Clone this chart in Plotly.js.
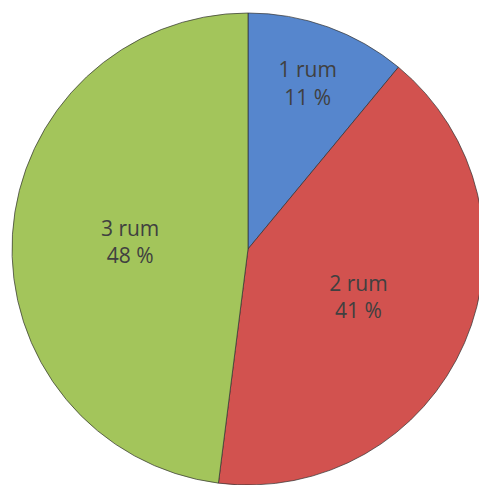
<!DOCTYPE html>
<html>
<head>
<meta charset="utf-8">
<script src="https://cdn.plot.ly/plotly-3.0.1.min.js"></script>
<style>
html,body{margin:0;padding:0;overflow:hidden;background:#fff;width:479px;height:485px;}
#chart{width:500px;height:500px;}
</style>
</head>
<body>
<div id="chart"></div>
<script>
const categories = ["1 rum", "2 rum", "3 rum"];
const shares = [11, 41, 48];
const shareLabels = ["11 %", "41 %", "48 %"];
const sliceColors = ["#5686CD", "#D2524F", "#A3C55B"];

Plotly.newPlot("chart", [{
  type: "pie",
  labels: categories,
  values: shares,
  text: shareLabels,
  texttemplate: "%{label}<br>%{text}",
  textposition: "inside",
  insidetextorientation: "horizontal",
  sort: false,
  direction: "clockwise",
  rotation: 0,
  hoverinfo: "none",
  marker: {colors: sliceColors, line: {color: "rgba(50,50,50,0.7)", width: 1}},
  textfont: {family: "Open Sans, sans-serif", size: 21, color: "#404040"},
  showlegend: false
}], {
  width: 500, height: 500,
  margin: {l: 12, t: 13, r: 16, b: 15},
  paper_bgcolor: "#ffffff",
  showlegend: false
}, {displayModeBar: false, staticPlot: true});
</script>
</body>
</html>
